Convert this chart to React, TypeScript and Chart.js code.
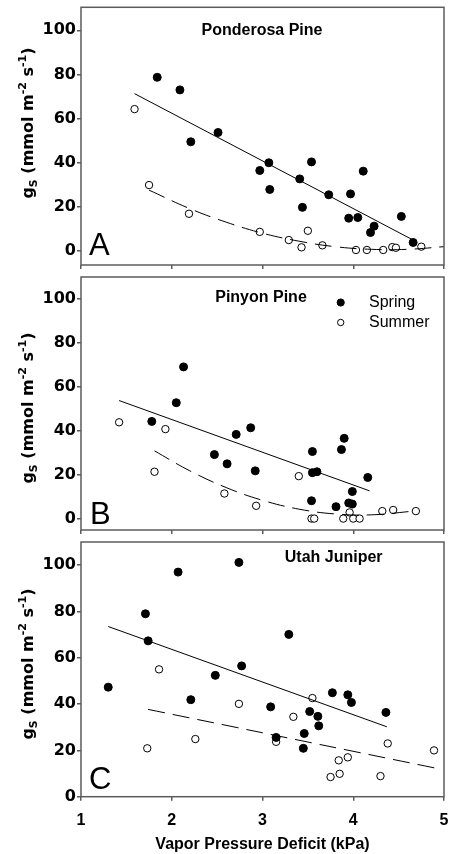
import React, { useEffect, useRef } from "react";
import { Chart, registerables } from "chart.js";

Chart.register(...registerables);

const FONT = '"Liberation Sans", Arial, sans-serif';
const WIDE_FONT = '"DejaVu Sans", "Liberation Sans", sans-serif';
const AXIS_COLOR = "#5c5c5c";

// shared axis ticks
const xTicks = [1, 2, 3, 4, 5];
const yTicks = [0, 20, 40, 60, 80, 100];
const xTitle = "Vapor Pressure Deficit (kPa)";
const seriesNames = ["Spring", "Summer"];

// Panel A: Ponderosa Pine
const ponderosaSpringX = [1.84, 2.09, 2.21, 2.51, 2.97, 3.07, 3.08, 3.41, 3.44, 3.54, 3.73, 3.95, 3.97, 4.05, 4.11, 4.19, 4.23, 4.53, 4.66];
const ponderosaSpringY = [78.7, 73.0, 49.5, 53.7, 36.5, 40.0, 27.9, 32.7, 19.8, 40.4, 25.5, 14.9, 25.9, 15.2, 36.2, 8.4, 11.3, 15.7, 3.9];
const ponderosaSummerX = [1.59, 1.75, 2.19, 2.97, 3.29, 3.43, 3.50, 3.66, 4.03, 4.15, 4.33, 4.43, 4.47, 4.75];
const ponderosaSummerY = [64.3, 29.9, 16.9, 8.7, 5.0, 1.7, 9.2, 2.6, 0.5, 0.5, 0.5, 1.8, 1.5, 2.0];
const ponderosaSpringFitX = [1.59, 4.66];
const ponderosaSpringFitY = [71.3, 5.0];
const ponderosaSummerFitX = [1.75, 2.2, 2.6, 3.0, 3.4, 3.8, 4.2, 4.6, 5.0];
const ponderosaSummerFitY = [27.6, 19.2, 13.1, 8.1, 4.5, 2.0, 0.8, 0.8, 2.0];

// Panel B: Pinyon Pine
const pinyonSpringX = [1.78, 2.05, 2.13, 2.47, 2.61, 2.71, 2.87, 2.92, 3.54, 3.55, 3.55, 3.60, 3.81, 3.87, 3.90, 3.95, 3.99, 3.99, 4.16];
const pinyonSpringY = [44.4, 52.9, 69.2, 29.3, 25.1, 38.5, 41.5, 21.9, 8.3, 30.7, 21.1, 21.5, 5.6, 31.6, 36.7, 7.3, 6.8, 12.5, 18.9];
const pinyonSummerX = [1.42, 1.81, 1.93, 2.58, 2.93, 3.40, 3.54, 3.57, 3.89, 3.96, 4.00, 4.07, 4.32, 4.44, 4.69];
const pinyonSummerY = [44.0, 21.5, 40.9, 11.6, 6.0, 19.5, 0.2, 0.2, 0.2, 3.0, 0.2, 0.2, 3.6, 4.1, 3.6];
const pinyonSpringFitX = [1.42, 4.18];
const pinyonSpringFitY = [53.9, 12.8];
const pinyonSummerFitX = [1.81, 2.2, 2.6, 3.0, 3.4, 3.8, 4.2, 4.67];
const pinyonSummerFitY = [31.0, 21.9, 14.3, 8.5, 4.5, 2.3, 1.9, 3.6];

// Panel C: Utah Juniper
const juniperSpringX = [1.30, 1.71, 1.74, 2.07, 2.21, 2.48, 2.74, 2.77, 3.09, 3.15, 3.29, 3.46, 3.45, 3.52, 3.61, 3.62, 3.77, 3.94, 3.98, 4.36];
const juniperSpringY = [47.3, 79.0, 67.3, 97.0, 41.9, 52.4, 101.2, 56.5, 38.8, 25.6, 70.1, 27.3, 20.9, 36.8, 34.7, 30.6, 44.9, 44.0, 40.7, 36.4];
const juniperSummerX = [1.73, 1.86, 2.26, 2.74, 3.15, 3.34, 3.55, 3.75, 3.84, 3.85, 3.94, 4.30, 4.38, 4.89];
const juniperSummerY = [20.9, 55.0, 24.9, 40.1, 23.7, 34.5, 42.6, 8.5, 15.7, 9.9, 17.0, 8.9, 23.0, 20.0];
const juniperSpringFitX = [1.30, 4.37];
const juniperSpringFitY = [73.5, 30.2];
const juniperSummerFitX = [1.74, 4.90];
const juniperSummerFitY = [37.7, 12.4];

type PanelCfg = {
  title: string;
  letter: string;
  springX: number[]; springY: number[];
  summerX: number[]; summerY: number[];
  springFitX: number[]; springFitY: number[];
  summerFitX: number[]; summerFitY: number[];
  top: number; height: number; areaTop: number; xAxisH: number; yMin: number; yMax: number;
  titleX: number; titleY: number; letterX: number; letterY: number; yTitleY: number;
  showXLabels: boolean; legend: boolean;
};

const panels: PanelCfg[] = [
  {
    title: "Ponderosa Pine", letter: "A",
    springX: ponderosaSpringX, springY: ponderosaSpringY, summerX: ponderosaSummerX, summerY: ponderosaSummerY,
    springFitX: ponderosaSpringFitX, springFitY: ponderosaSpringFitY, summerFitX: ponderosaSummerFitX, summerFitY: ponderosaSummerFitY,
    top: 0, height: 272, areaTop: 7.3, xAxisH: 7, yMin: -6.3, yMax: 110.4,
    titleX: 262, titleY: 30.7, letterX: 89, letterY: 255, yTitleY: 123,
    showXLabels: false, legend: false,
  },
  {
    title: "Pinyon Pine", letter: "B",
    springX: pinyonSpringX, springY: pinyonSpringY, summerX: pinyonSummerX, summerY: pinyonSummerY,
    springFitX: pinyonSpringFitX, springFitY: pinyonSpringFitY, summerFitX: pinyonSummerFitX, summerFitY: pinyonSummerFitY,
    top: 272, height: 265, areaTop: 4, xAxisH: 7, yMin: -5, yMax: 110.1,
    titleX: 261, titleY: 26, letterX: 90, letterY: 252, yTitleY: 136,
    showXLabels: false, legend: true,
  },
  {
    title: "Utah Juniper", letter: "C",
    springX: juniperSpringX, springY: juniperSpringY, summerX: juniperSummerX, summerY: juniperSummerY,
    springFitX: juniperSpringFitX, springFitY: juniperSpringFitY, summerFitX: juniperSummerFitX, summerFitY: juniperSummerFitY,
    top: 537, height: 317, areaTop: 4.7, xAxisH: 57.3, yMin: 0, yMax: 110,
    titleX: 333.7, titleY: 20.7, letterX: 89, letterY: 252, yTitleY: 127,
    showXLabels: true, legend: false,
  },
];

const zip = (xs: number[], ys: number[]) => xs.map((x, i) => ({ x, y: ys[i] }));

function drawYTitle(ctx: CanvasRenderingContext2D, baseX: number, centerY: number) {
  const parts = [
    { t: "g", size: 16, dy: 0 },
    { t: "S", size: 11, dy: 4 },
    { t: " (mmol m", size: 16, dy: 0 },
    { t: "-2", size: 11, dy: -7 },
    { t: " s", size: 16, dy: 0 },
    { t: "-1", size: 11, dy: -7 },
    { t: ")", size: 16, dy: 0 },
  ];
  ctx.save();
  ctx.translate(baseX, centerY);
  ctx.rotate(-Math.PI / 2);
  ctx.fillStyle = "#000";
  ctx.textBaseline = "alphabetic";
  ctx.textAlign = "left";
  let total = 0;
  const widths = parts.map((p) => {
    ctx.font = `bold ${p.size}px ${WIDE_FONT}`;
    const w = ctx.measureText(p.t).width;
    total += w;
    return w;
  });
  let x = -total / 2;
  parts.forEach((p, i) => {
    ctx.font = `bold ${p.size}px ${WIDE_FONT}`;
    ctx.fillText(p.t, x, p.dy);
    x += widths[i];
  });
  ctx.restore();
}

function PanelChart({ p }: { p: PanelCfg }) {
  const ref = useRef<HTMLCanvasElement>(null);
  useEffect(() => {
    const canvas = ref.current;
    if (!canvas) return;
    const decor = {
      id: "decor",
      afterDraw(chart: any) {
        const ctx: CanvasRenderingContext2D = chart.ctx;
        const a = chart.chartArea;
        ctx.save();
        ctx.strokeStyle = AXIS_COLOR;
        ctx.lineWidth = 1.5;
        ctx.strokeRect(a.left, a.top, a.right - a.left, a.bottom - a.top);
        // panel title
        ctx.fillStyle = "#000";
        ctx.font = `bold 16px ${FONT}`;
        ctx.textAlign = "center";
        ctx.textBaseline = "middle";
        ctx.fillText(p.title, p.titleX, p.titleY);
        // panel letter
        ctx.font = `31px ${FONT}`;
        ctx.textAlign = "left";
        ctx.textBaseline = "alphabetic";
        ctx.fillText(p.letter, p.letterX, p.letterY);
        // legend
        if (p.legend) {
          const ds = chart.data.datasets;
          const rows = [ds[2], ds[3]];
          rows.forEach((d: any, i: number) => {
            const cy = 30.5 + i * 20;
            ctx.beginPath();
            ctx.arc(340.7, cy, i === 0 ? 3.6 : 3.2, 0, Math.PI * 2);
            ctx.fillStyle = d.backgroundColor;
            ctx.fill();
            ctx.lineWidth = 1;
            ctx.strokeStyle = d.borderColor;
            ctx.stroke();
            ctx.fillStyle = "#000";
            ctx.font = `16px ${FONT}`;
            ctx.textBaseline = "middle";
            ctx.fillText(d.label, 369, cy + 0.5);
          });
        }
        ctx.restore();
        drawYTitle(ctx, 33, p.yTitleY);
      },
    };
    const xTickFont = { family: FONT, size: 16, weight: "bold" as const };
    const yTickFont = { family: WIDE_FONT, size: 16, weight: "bold" as const };
    const chart = new Chart(canvas, {
      type: "scatter",
      data: {
        datasets: [
          {
            type: "line",
            label: "Spring fit",
            data: zip(p.springFitX, p.springFitY),
            borderColor: "#000",
            borderWidth: 1,
            pointRadius: 0,
            tension: 0,
            fill: false,
          } as any,
          {
            type: "line",
            label: "Summer fit",
            data: zip(p.summerFitX, p.summerFitY),
            borderColor: "#000",
            borderWidth: 1,
            borderDash: [17, 8],
            pointRadius: 0,
            tension: 0.4,
            fill: false,
          } as any,
          {
            label: seriesNames[0],
            data: zip(p.springX, p.springY),
            pointRadius: 4,
            backgroundColor: "#000",
            borderColor: "#000",
            borderWidth: 1,
          },
          {
            label: seriesNames[1],
            data: zip(p.summerX, p.summerY),
            pointRadius: 3.7,
            backgroundColor: "#fff",
            borderColor: "#000",
            borderWidth: 1,
          },
        ],
      },
      options: {
        responsive: false,
        animation: false,
        devicePixelRatio: 1,
        layout: { padding: { top: p.areaTop, right: 4, bottom: 0, left: 0 } },
        plugins: { legend: { display: false }, tooltip: { enabled: false }, title: { display: false } },
        scales: {
          x: {
            type: "linear",
            min: 1,
            max: 5,
            afterBuildTicks: (s: any) => {
              s.ticks = xTicks.map((v) => ({ value: v }));
            },
            afterFit: (s: any) => {
              s.height = p.xAxisH;
              s.paddingLeft = 0;
              s.paddingRight = 0;
            },
            grid: { drawOnChartArea: false, drawTicks: true, tickLength: 4, color: AXIS_COLOR, lineWidth: 1.5 },
            border: { display: false },
            ticks: {
              display: p.showXLabels,
              font: xTickFont,
              color: "#000",
              padding: 10,
              maxRotation: 0,
              autoSkip: false,
            },
            title: {
              display: p.showXLabels,
              text: xTitle,
              color: "#000",
              font: { family: FONT, size: 16, weight: "bold" },
              padding: { top: 0, bottom: 0 },
            },
          },
          y: {
            type: "linear",
            min: p.yMin,
            max: p.yMax,
            afterBuildTicks: (s: any) => {
              s.ticks = yTicks.map((v) => ({ value: v }));
            },
            afterFit: (s: any) => {
              s.width = 81;
              s.paddingTop = 0;
              s.paddingBottom = 0;
            },
            grid: { drawOnChartArea: false, drawTicks: true, tickLength: 4, color: AXIS_COLOR, lineWidth: 1.5 },
            border: { display: false },
            ticks: { font: yTickFont, color: "#000", padding: 1 },
          },
        },
      },
      plugins: [decor],
    });
    return () => chart.destroy();
  }, [p]);
  return (
    <canvas
      ref={ref}
      width={449}
      height={p.height}
      style={{ position: "absolute", left: 0, top: p.top, width: 449, height: p.height, display: "block" }}
    />
  );
}

export default function App() {
  return (
    <div style={{ position: "absolute", left: 0, top: 0, width: 449, height: 854, background: "#fff", overflow: "hidden" }}>
      {panels.map((p) => (
        <PanelChart key={p.letter} p={p} />
      ))}
    </div>
  );
}
